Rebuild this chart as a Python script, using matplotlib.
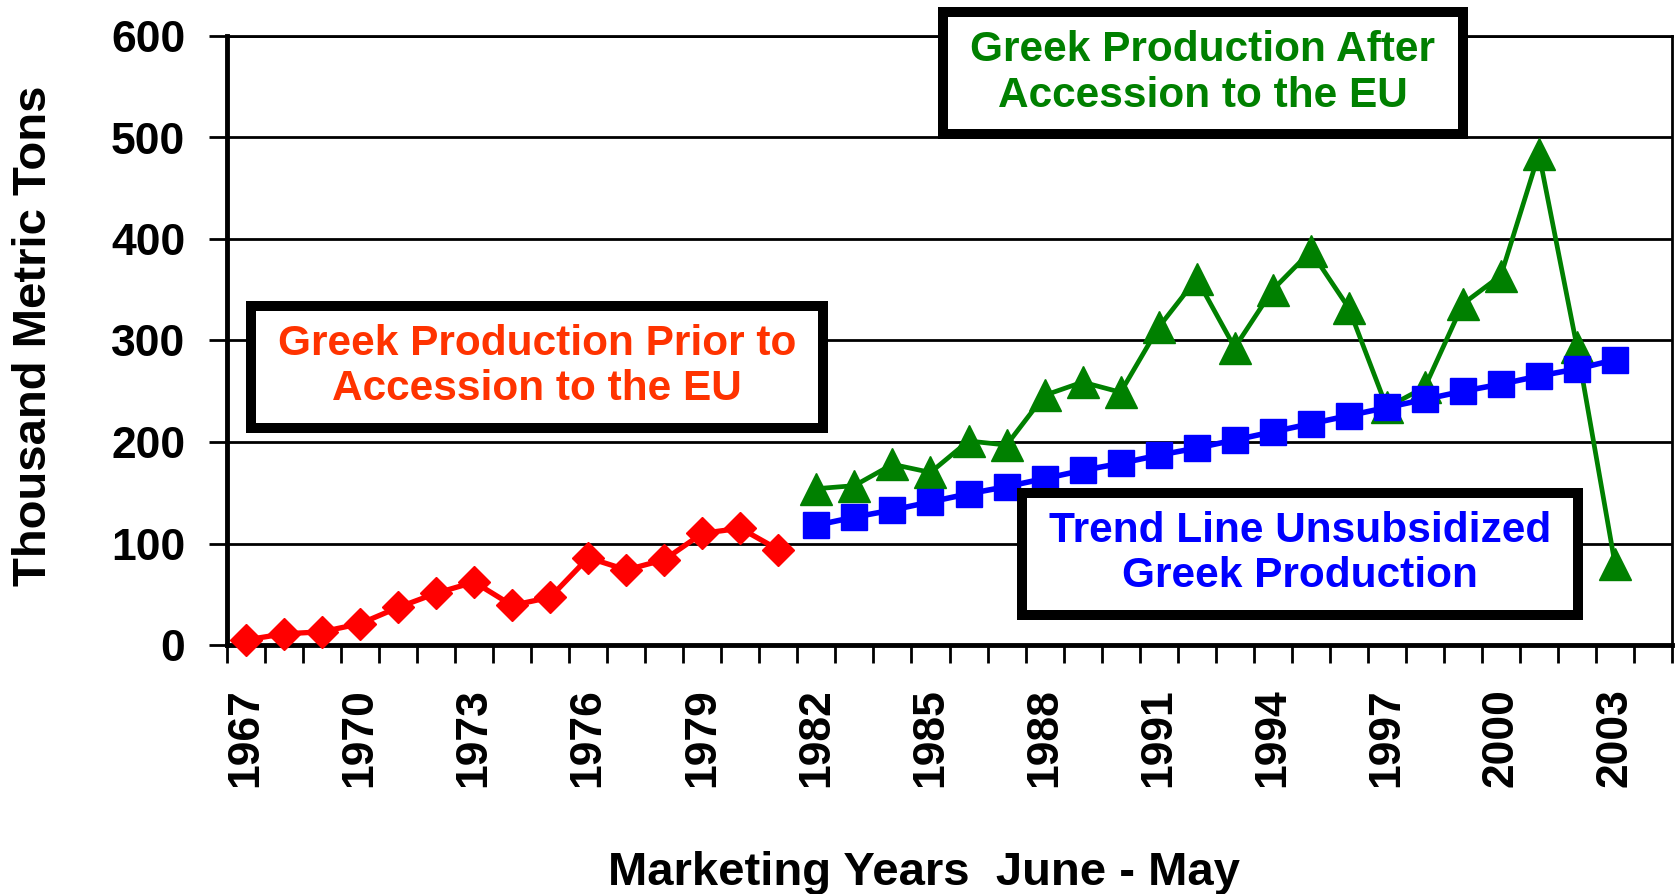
import matplotlib
matplotlib.use("Agg")
import matplotlib.pyplot as plt
from matplotlib.patches import Rectangle
from matplotlib.ticker import FixedLocator, NullFormatter

plt.rcParams['font.family'] = ['Liberation Sans', 'DejaVu Sans']
plt.rcParams['font.weight'] = 'bold'

years = list(range(1967, 2005))          # 38 categories, 2004 empty
tick_years = list(range(1967, 2004, 3))

red_years = list(range(1967, 1982))
red_vals = [5, 11, 13, 21, 37, 51, 62, 39, 47, 86, 74, 84, 110, 115, 94]

green_years = list(range(1982, 2004))
green_vals = [154, 157, 178, 170, 201, 197, 246, 259, 249, 313, 361, 293,
              350, 388, 332, 234, 254, 336, 364, 484, 294, 80]

blue_years = list(range(1982, 2004))
blue_vals = [118, 126, 133, 141, 149, 156, 164, 172, 179, 187, 194, 202,
             210, 218, 226, 234, 242, 250, 257, 265, 272, 281]

W, H = 1675, 894
fig = plt.figure(figsize=(W / 100, H / 100), dpi=100)
L, R, T, B = 227, 1672, 36, 645
ax = fig.add_axes([L / W, 1 - B / H, (R - L) / W, (B - T) / H])

def xpos(yrs):
    return [y - years[0] + 0.5 for y in yrs]

ax.plot(xpos(red_years), red_vals, color='#FF0000', lw=3.8, marker='D',
        ms=16, mfc='#FF0000', mec='#FF0000', zorder=3, clip_on=False)
ax.plot(xpos(green_years), green_vals, color='#008000', lw=3.4, marker='^',
        ms=23, mfc='#008000', mec='#008000', zorder=3, clip_on=False)
ax.plot(xpos(blue_years), blue_vals, color='#0000FF', lw=4.0, marker='s',
        ms=19, mfc='#0000FF', mec='#0000FF', zorder=4, clip_on=False)

ax.set_xlim(0, len(years))
ax.set_ylim(0, 600)
ax.set_yticks(range(0, 601, 100))
ax.yaxis.grid(True, color='black', lw=2.0)
ax.set_axisbelow(True)
ax.tick_params(axis='y', direction='out', length=13, width=2.0, pad=17,
               labelsize=32)
for lab in ax.get_yticklabels():
    lab.set_fontweight('bold')

ax.set_xticks(xpos(tick_years))
ax.set_xticklabels([str(y) for y in tick_years], rotation=90, fontsize=32,
                   fontweight='bold')
ax.tick_params(axis='x', which='major', length=0, pad=31)
ax.xaxis.set_minor_locator(FixedLocator(list(range(0, len(years) + 1))))
ax.xaxis.set_minor_formatter(NullFormatter())
ax.tick_params(axis='x', which='minor', direction='out', length=13, width=2.0)

ax.spines['left'].set_linewidth(3.5)
ax.spines['bottom'].set_linewidth(3.5)
ax.spines['right'].set_linewidth(2.0)
ax.spines['top'].set_linewidth(2.0)

fig.text(34 / W, 1 - 336 / H, 'Thousand Metric Tons', rotation=90,
         ha='center', va='center', fontsize=34, fontweight='bold')
fig.text(924 / W, 1 - 873 / H, 'Marketing Years  June - May',
         ha='center', va='center', fontsize=34, fontweight='bold')

def box(x0, y0, x1, y1, text, color):
    rect = Rectangle((x0 / W, 1 - y1 / H), (x1 - x0) / W, (y1 - y0) / H,
                     transform=fig.transFigure, facecolor='white',
                     edgecolor='black', lw=7.2, zorder=6)
    fig.patches.append(rect)
    fig.text((x0 + x1) / 2 / W, 1 - (y0 + y1) / 2 / H, text, ha='center',
             va='center', fontsize=30.5, fontweight='bold', color=color,
             linespacing=1.17, zorder=7)

box(251, 305.5, 822.5, 428, 'Greek Production Prior to\nAccession to the EU', '#FF3300')
box(943, 12, 1462.5, 134, 'Greek Production After\nAccession to the EU', '#008000')
box(1021.5, 492.5, 1578, 615, 'Trend Line Unsubsidized\nGreek Production', '#0000FF')

fig.savefig('out.png', dpi=100)
